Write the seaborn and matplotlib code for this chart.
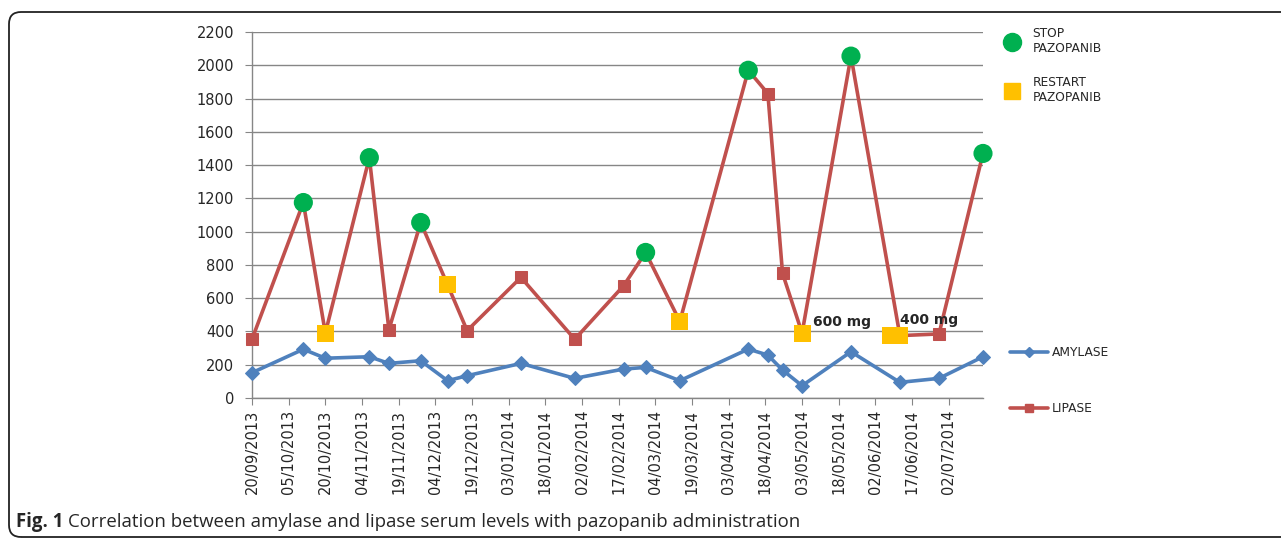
import pandas as pd
import numpy as np
import matplotlib
matplotlib.use("Agg")
import matplotlib.pyplot as plt
import matplotlib.dates as mdates
from matplotlib.lines import Line2D
from matplotlib.patches import FancyBboxPatch
import seaborn as sns

dates = pd.to_datetime([
    "2013-09-20", "2013-10-11", "2013-10-20", "2013-11-07", "2013-11-15",
    "2013-11-28", "2013-12-09", "2013-12-17", "2014-01-08", "2014-01-30",
    "2014-02-19", "2014-02-28", "2014-03-14", "2014-04-11", "2014-04-19",
    "2014-04-25", "2014-05-03", "2014-05-23", "2014-06-12", "2014-06-28",
    "2014-07-16",
])
amylase = [152, 293, 239, 248, 208, 224, 104, 134, 208, 118,
           174, 184, 104, 294, 258, 168, 74, 278, 94, 118, 248]
lipase = [353, 1175, 390, 1445, 410, 1055, 680, 405, 725, 353,
          675, 875, 460, 1970, 1830, 750, 390, 2055, 375, 385, 1470]

stop_dates = pd.to_datetime(["2013-10-11", "2013-11-07", "2013-11-28", "2014-02-28",
                             "2014-04-11", "2014-05-23", "2014-07-16"])
stop_vals = [1175, 1445, 1055, 875, 1970, 2055, 1470]
restart_dates = pd.to_datetime(["2013-10-20", "2013-12-09", "2014-03-14", "2014-05-03",
                                "2014-06-08", "2014-06-12"])
restart_vals = [390, 680, 460, 390, 375, 375]

dose_labels = ["600 mg", "400 mg"]
dose_dates = pd.to_datetime(["2014-05-03", "2014-06-12"])
dose_vals = [390, 375]

tick_dates = pd.date_range("2013-09-20", "2014-07-02", freq="15D")

BLUE = "#4F81BD"
RED = "#C0504D"
GREEN = "#00B050"
YELLOW = "#FFC000"

sns.set_style("white")
plt.rcParams["font.family"] = ["DejaVu Sans"]

fig = plt.figure(figsize=(12.81, 5.40), dpi=100)
ax = fig.add_axes([252 / 1281, 1 - 398 / 540, 731 / 1281, 366 / 540])

sns.lineplot(x=dates, y=amylase, ax=ax, color=BLUE, linewidth=2.6, marker="D",
             markersize=7, markeredgecolor=BLUE, zorder=3, clip_on=False)
sns.lineplot(x=dates, y=lipase, ax=ax, color=RED, linewidth=2.6, marker="s",
             markersize=9, markeredgecolor=RED, zorder=3, clip_on=False)
sns.scatterplot(x=stop_dates, y=stop_vals, ax=ax, color=GREEN, s=190,
                marker="o", edgecolor="none", zorder=5, clip_on=False)
sns.scatterplot(x=restart_dates, y=restart_vals, ax=ax, color=YELLOW, s=150,
                marker="s", edgecolor="none", zorder=5, clip_on=False)

offsets = [(8, 3), (0, 6)]
for lab, d, v, off in zip(dose_labels, dose_dates, dose_vals, offsets):
    ax.annotate(lab, xy=(d, v), xytext=off, textcoords="offset points",
                fontsize=10, fontweight="bold", ha="left", va="bottom", zorder=6)

ax.set_ylim(0, 2200)
ax.set_yticks(np.arange(0, 2201, 200))
ax.set_xlim(pd.Timestamp("2013-09-20"), pd.Timestamp("2014-07-16"))
ax.set_xticks(tick_dates)
ax.xaxis.set_major_formatter(mdates.DateFormatter("%d/%m/%Y"))
ax.tick_params(axis="x", rotation=90, labelsize=10.5, length=5, color="#868686",
               direction="out", bottom=True)
ax.tick_params(axis="y", labelsize=10.5, length=5, color="#868686",
               direction="out", left=True, pad=8)
ax.grid(axis="y", color="#868686", linewidth=1.0)
ax.set_axisbelow(True)
for side in ["top", "right"]:
    ax.spines[side].set_visible(False)
for side in ["left", "bottom"]:
    ax.spines[side].set_color("#868686")
    ax.spines[side].set_linewidth(1.0)
ax.set_xlabel("")
ax.set_ylabel("")

# legends on the right
h1 = [Line2D([], [], linestyle="none", marker="o", markersize=13, color=GREEN),
      Line2D([], [], linestyle="none", marker="s", markersize=11, color=YELLOW)]
fig.legend(h1, ["STOP\nPAZOPANIB", "RESTART\nPAZOPANIB"], loc="upper left",
           bbox_to_anchor=(1003 / 1281, 1 - 27 / 540), frameon=False, fontsize=8.8,
           handlelength=1.5, handletextpad=0.9, labelspacing=1.75,
           borderpad=0, borderaxespad=0)
h2 = [Line2D([], [], color=BLUE, linewidth=2.6, marker="D", markersize=5),
      Line2D([], [], color=RED, linewidth=2.6, marker="s", markersize=6)]
fig.legend(h2, ["AMYLASE", "LIPASE"], loc="upper left",
           bbox_to_anchor=(1010 / 1281, 1 - 346 / 540), frameon=False, fontsize=8.8,
           handlelength=3.1, handletextpad=0.3, labelspacing=3.55,
           borderpad=0, borderaxespad=0)

# rounded frame around the figure
frame = FancyBboxPatch((0.09, 0.03), 13.5, 5.25, boxstyle="round,pad=0,rounding_size=0.12",
                       transform=fig.dpi_scale_trans, facecolor="none",
                       edgecolor="#222222", linewidth=1.3)
fig.patches.append(frame)

# caption
renderer = fig.canvas.get_renderer()
t1 = fig.text(16 / 1281, 1 - 522 / 540, "Fig. 1", fontsize=13.4, fontweight="bold",
              family="Open Sans", va="center", ha="left")
bb = t1.get_window_extent(renderer=renderer)
fig.text((bb.x1 + 5) / 1281, 1 - 522 / 540,
         "Correlation between amylase and lipase serum levels with pazopanib administration",
         fontsize=13.4, family="Open Sans", va="center", ha="left")

fig.savefig("out.png", dpi=100)
